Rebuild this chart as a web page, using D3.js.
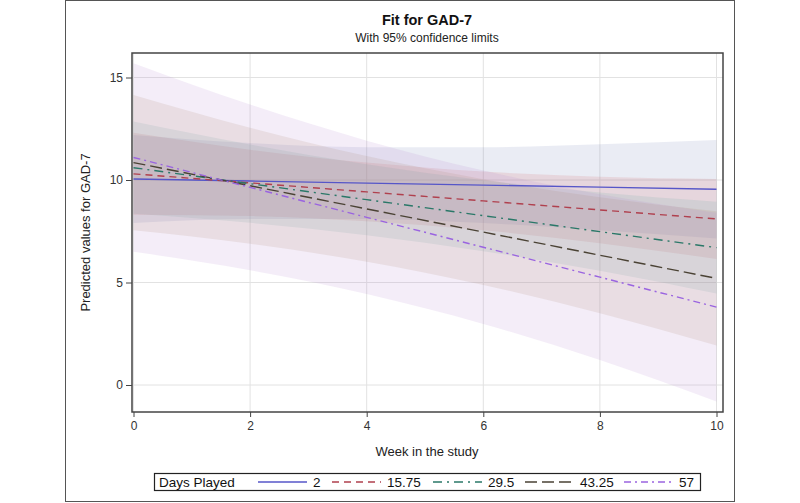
<!DOCTYPE html>
<html><head><meta charset="utf-8">
<script src="https://cdn.jsdelivr.net/npm/d3@7"></script>
<style>body{margin:0;background:#fff}svg{display:block}text{font-family:"Liberation Sans",Arial,sans-serif}</style>
</head><body><svg id="c" width="800" height="503"></svg>
<script>
const weeks = [0, 2, 4, 6, 8, 10];
const daysPlayed = ["2", "15.75", "29.5", "43.25", "57"];
const pred2  = [10.05, 9.95, 9.85, 9.75, 9.65, 9.55];
const pred15 = [10.3, 9.86, 9.42, 8.98, 8.54, 8.1];
const pred29 = [10.6, 9.82, 9.04, 8.26, 7.48, 6.7];
const pred43 = [10.85, 9.72, 8.59, 7.46, 6.33, 5.2];
const pred57 = [11.1, 9.64, 8.18, 6.72, 5.26, 3.8];
const upper2  = [12.2, 11.8, 11.6, 11.6, 11.75, 11.95];
const lower2  = [7.9, 8.1, 8.1, 7.9, 7.55, 7.15];
const upper15 = [12.3, 11.48, 10.85, 10.41, 10.16, 10.05];
const lower15 = [8.3, 8.24, 7.99, 7.55, 6.92, 6.15];
const upper29 = [12.85, 11.73, 10.77, 9.99, 9.39, 8.94];
const lower29 = [8.35, 7.91, 7.31, 6.53, 5.57, 4.46];
const upper43 = [14.15, 12.55, 11.17, 10.04, 9.16, 8.47];
const lower43 = [7.55, 6.89, 6.01, 4.88, 3.5, 1.93];
const upper57 = [15.7, 13.68, 11.92, 10.46, 9.3, 8.4];
const lower57 = [6.5, 5.6, 4.44, 2.98, 1.22, -0.8];
const xTicks = [0, 2, 4, 6, 8, 10];
const yTicks = [0, 5, 10, 15];

const preds = [pred2, pred15, pred29, pred43, pred57];
const uppers = [upper2, upper15, upper29, upper43, upper57];
const lowers = [lower2, lower15, lower29, lower43, lower57];
const lineColors = ["#5656c8", "#b0404e", "#2a7868", "#4a4234", "#9a64e0"];
const fillColors = ["#6f7eb3", "#d05b5b", "#66a5a0", "#a9865b", "#b689cd"];
const dashes = [null, "7,5", "9,5,2,5", "12,5", "7,4,2,4"];

const svg = d3.select("#c");
const L = 132, R = 723, T = 53, B = 412;
const x = d3.scaleLinear().domain([0, 10]).range([133.5, 716.5]);
const y = d3.scaleLinear().domain([0, 15]).range([385, 77.5]);

// outer frame
svg.append("rect").attr("x", 65.5).attr("y", 0.5).attr("width", 669).attr("height", 501)
  .attr("fill", "#fff").attr("stroke", "#555").attr("stroke-width", 1);

// gridlines
const g = svg.append("g");
g.selectAll(".gx").data(xTicks).join("line")
  .attr("x1", d => x(d)).attr("x2", d => x(d)).attr("y1", T).attr("y2", B)
  .attr("stroke", "#e2e2e2").attr("stroke-width", 1);
g.selectAll(".gy").data(yTicks).join("line")
  .attr("x1", L).attr("x2", R).attr("y1", d => y(d)).attr("y2", d => y(d))
  .attr("stroke", "#e2e2e2").attr("stroke-width", 1);

// bands
const area = d3.area().x((d, i) => x(weeks[i])).y0(d => y(d[0])).y1(d => y(d[1])).curve(d3.curveMonotoneX);
preds.forEach((p, k) => {
  const pts = weeks.map((w, i) => [lowers[k][i], uppers[k][i]]);
  svg.append("path").attr("d", area(pts)).attr("fill", fillColors[k]).attr("fill-opacity", 0.15);
});

// lines
const line = d3.line().x((d, i) => x(weeks[i])).y(d => y(d));
preds.forEach((p, k) => {
  const path = svg.append("path").attr("d", line(p)).attr("fill", "none")
    .attr("stroke", lineColors[k]).attr("stroke-width", 1.4);
  if (dashes[k]) path.attr("stroke-dasharray", dashes[k]);
});

// plot frame
svg.append("rect").attr("x", L).attr("y", T).attr("width", R - L).attr("height", B - T)
  .attr("fill", "none").attr("stroke", "#444").attr("stroke-width", 1.5);

// axes
const xAxis = svg.append("g").attr("transform", `translate(0,${B})`)
  .call(d3.axisBottom(x).tickValues(xTicks).tickSize(5).tickPadding(4).tickFormat(d3.format("d")));
const yAxis = svg.append("g").attr("transform", `translate(${L},0)`)
  .call(d3.axisLeft(y).tickValues(yTicks).tickSize(6).tickPadding(3).tickFormat(d3.format("d")));
[xAxis, yAxis].forEach(a => {
  a.select(".domain").remove();
  a.selectAll("line").attr("stroke", "#444");
  a.selectAll("text").attr("fill", "#333").style("font-size", "12px").style("font-family", '"Liberation Sans",Arial,sans-serif');
});

// titles
svg.append("text").attr("x", 427).attr("y", 25).attr("text-anchor", "middle")
  .style("font-size", "14.5px").style("font-weight", "bold").attr("fill", "#111").text("Fit for GAD-7");
svg.append("text").attr("x", 427).attr("y", 42).attr("text-anchor", "middle")
  .style("font-size", "12px").attr("fill", "#222").text("With 95% confidence limits");
svg.append("text").attr("x", 427).attr("y", 456).attr("text-anchor", "middle")
  .style("font-size", "13px").attr("fill", "#222").text("Week in the study");
svg.append("text").attr("transform", `translate(90,${(T + B) / 2}) rotate(-90)`).attr("text-anchor", "middle")
  .style("font-size", "13px").attr("fill", "#222").text("Predicted values for GAD-7");

// legend
const lg = svg.append("g");
lg.append("rect").attr("x", 154.5).attr("y", 473.5).attr("width", 546).attr("height", 17)
  .attr("fill", "#fff").attr("stroke", "#222").attr("stroke-width", 1.2);
lg.append("text").attr("x", 159).attr("y", 487).style("font-size", "13.5px").attr("fill", "#111").text("Days Played");
const sampleX = [258, 332, 433, 525, 624];
daysPlayed.forEach((lab, k) => {
  const s = lg.append("line").attr("x1", sampleX[k]).attr("x2", sampleX[k] + 49)
    .attr("y1", 482).attr("y2", 482).attr("stroke", lineColors[k]).attr("stroke-width", 1.4);
  if (dashes[k]) s.attr("stroke-dasharray", dashes[k]);
  lg.append("text").attr("x", sampleX[k] + 55).attr("y", 487).style("font-size", "13.5px")
    .attr("fill", "#111").text(lab);
});
</script></body></html>
